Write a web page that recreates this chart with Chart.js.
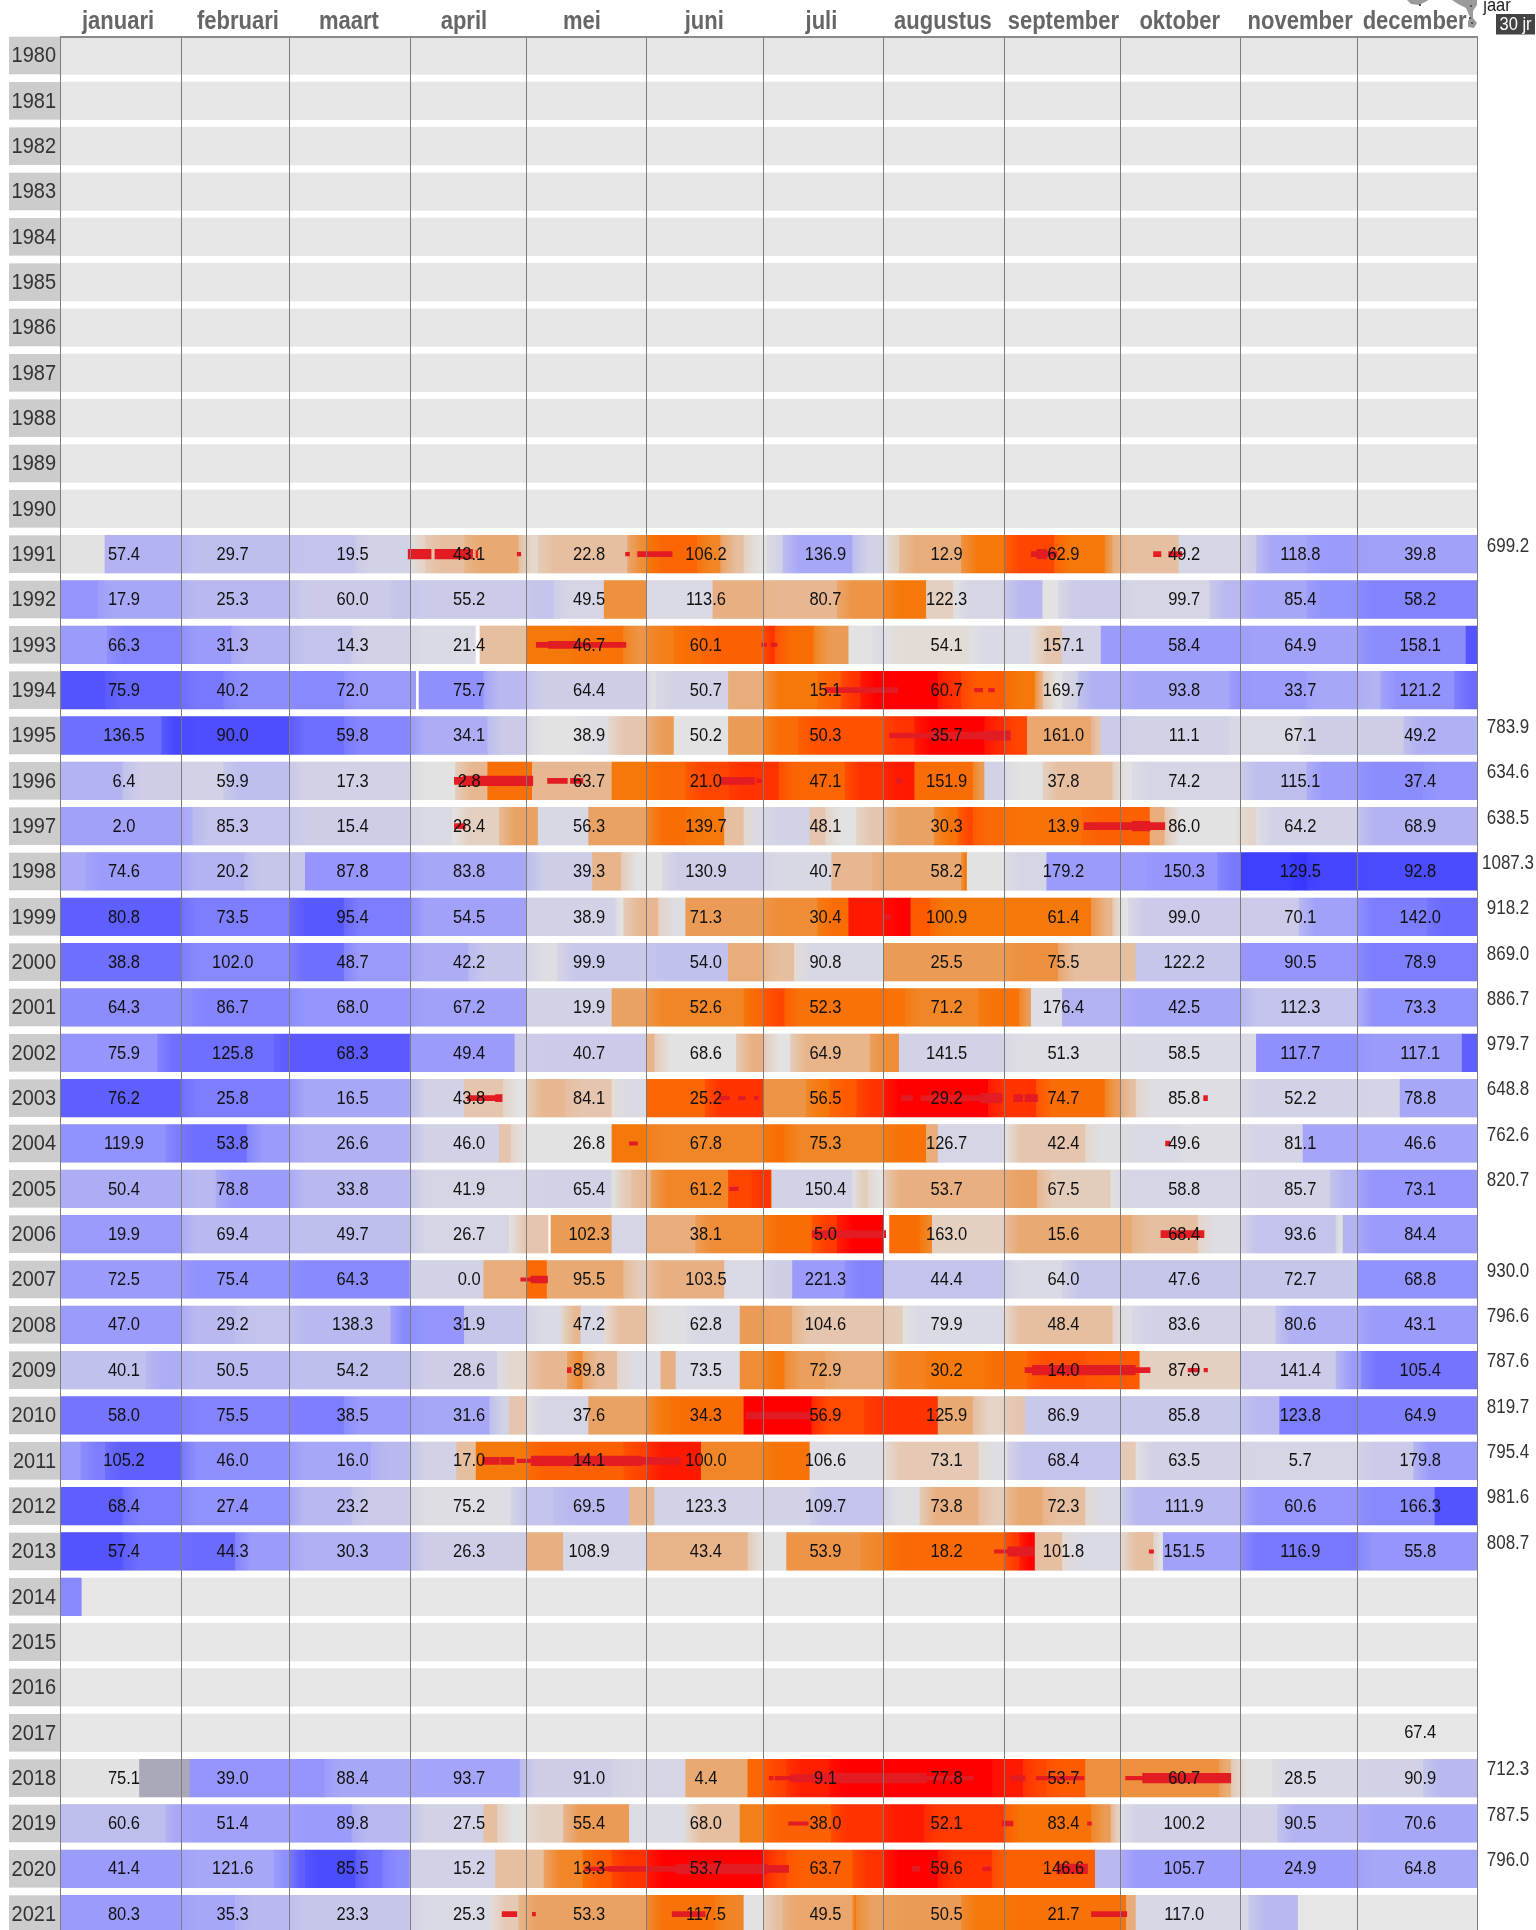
<!DOCTYPE html>
<html>
<head>
<meta charset="utf-8">
<title>neerslag per jaar</title>
<script src="https://cdn.jsdelivr.net/npm/chart.js@4/dist/chart.umd.min.js"></script>
<style>
html, body { margin: 0; padding: 0; background: #fff; overflow: hidden; }
canvas { display: block; }
</style>
</head>
<body>
<canvas id="rainChart" width="1536" height="1930"></canvas>
<script>
/* Monthly rain per year, with daily deficit colour bands and drought streaks */
const years = [];
for (let y = 1980; y <= 2021; y++) years.push(y);

const monthNames = ['januari','februari','maart','april','mei','juni','juli','augustus','september','oktober','november','december'];
const monthEdges = [0,31,59,90,120,151,181,212,243,273,304,334,365];
const monthNameDays = [14.5,45.4,74,103.6,134,165.5,195.7,227,258,288,319,348.5];
const valueDays = [16.3,44.3,75.2,105.2,136.1,166.2,197,228.2,258.3,289.4,319.3,350.2];

/* monthly totals, mm */
const r1991 = [57.4,29.7,19.5,43.1,22.8,106.2,136.9,12.9,62.9,49.2,118.8,39.8];
const r1992 = [17.9,25.3,60.0,55.2,49.5,113.6,80.7,122.3,null,99.7,85.4,58.2];
const r1993 = [66.3,31.3,14.3,21.4,46.7,60.1,null,54.1,157.1,58.4,64.9,158.1];
const r1994 = [75.9,40.2,72.0,75.7,64.4,50.7,15.1,60.7,169.7,93.8,33.7,121.2];
const r1995 = [136.5,90.0,59.8,34.1,38.9,50.2,50.3,35.7,161.0,11.1,67.1,49.2];
const r1996 = [6.4,59.9,17.3,2.8,63.7,21.0,47.1,151.9,37.8,74.2,115.1,37.4];
const r1997 = [2.0,85.3,15.4,28.4,56.3,139.7,48.1,30.3,13.9,86.0,64.2,68.9];
const r1998 = [74.6,20.2,87.8,83.8,39.3,130.9,40.7,58.2,179.2,150.3,129.5,92.8];
const r1999 = [80.8,73.5,95.4,54.5,38.9,71.3,30.4,100.9,61.4,99.0,70.1,142.0];
const r2000 = [38.8,102.0,48.7,42.2,99.9,54.0,90.8,25.5,75.5,122.2,90.5,78.9];
const r2001 = [64.3,86.7,68.0,67.2,19.9,52.6,52.3,71.2,176.4,42.5,112.3,73.3];
const r2002 = [75.9,125.8,68.3,49.4,40.7,68.6,64.9,141.5,51.3,58.5,117.7,117.1];
const r2003 = [76.2,25.8,16.5,43.8,84.1,25.2,56.5,29.2,74.7,85.8,52.2,78.8];
const r2004 = [119.9,53.8,26.6,46.0,26.8,67.8,75.3,126.7,42.4,49.6,81.1,46.6];
const r2005 = [50.4,78.8,33.8,41.9,65.4,61.2,150.4,53.7,67.5,58.8,85.7,73.1];
const r2006 = [19.9,69.4,49.7,26.7,102.3,38.1,5.0,163.0,15.6,68.4,93.6,84.4];
const r2007 = [72.5,75.4,64.3,0.0,95.5,103.5,221.3,44.4,64.0,47.6,72.7,68.8];
const r2008 = [47.0,29.2,138.3,31.9,47.2,62.8,104.6,79.9,48.4,83.6,80.6,43.1];
const r2009 = [40.1,50.5,54.2,28.6,89.8,73.5,72.9,30.2,14.0,87.0,141.4,105.4];
const r2010 = [58.0,75.5,38.5,31.6,37.6,34.3,56.9,125.9,86.9,85.8,123.8,64.9];
const r2011 = [105.2,46.0,16.0,17.0,14.1,100.0,106.6,73.1,68.4,63.5,5.7,179.8];
const r2012 = [68.4,27.4,23.2,75.2,69.5,123.3,109.7,73.8,72.3,111.9,60.6,166.3];
const r2013 = [57.4,44.3,30.3,26.3,108.9,43.4,53.9,18.2,101.8,151.5,116.9,55.8];
const r2017 = [null,null,null,null,null,null,null,null,null,null,null,67.4];
const r2018 = [75.1,39.0,88.4,93.7,91.0,4.4,9.1,77.8,53.7,60.7,28.5,90.9];
const r2019 = [60.6,51.4,89.8,27.5,55.4,68.0,38.0,52.1,83.4,100.2,90.5,70.6];
const r2020 = [41.4,121.6,85.5,15.2,13.3,53.7,63.7,59.6,146.6,105.7,24.9,64.8];
const r2021 = [80.3,35.3,23.3,25.3,53.3,117.5,49.5,50.5,21.7,117.0,null,null];
const rainRows = [[1991,r1991],[1992,r1992],[1993,r1993],[1994,r1994],[1995,r1995],[1996,r1996],[1997,r1997],[1998,r1998],[1999,r1999],[2000,r2000],[2001,r2001],[2002,r2002],[2003,r2003],[2004,r2004],[2005,r2005],[2006,r2006],[2007,r2007],[2008,r2008],[2009,r2009],[2010,r2010],[2011,r2011],[2012,r2012],[2013,r2013],[2017,r2017],[2018,r2018],[2019,r2019],[2020,r2020],[2021,r2021]];

const totalYears = [1991,1995,1996,1997,1998,1999,2000,2001,2002,2003,2004,2005,2007,2008,2009,2010,2011,2012,2013,2018,2019,2020];
const totalValues = ['699.2','783.9','634.6','638.5','1087.3','918.2','869.0','886.7','979.7','648.8','762.6','820.7','930.0','796.6','787.6','819.7','795.4','981.6','808.7','712.3','787.5','796.0'];

/* colour bands per year: [last day of band, level]; level > 0 wet/blue, < 0 dry/orange-red */
const b1991 = [[11.4,0],[31,2.2],[59,1.8],[76,1.6],[90,1],[94,-0.4],[104,-1],[118,-1.6],[123,-0.3],[146,-1],[151,-2.4],[164,-3.6],[170,-2.6],[176,-1],[182,0],[186,1],[204,2.6],[212,1],[216,-0.5],[232,-1.5],[243,-3],[256,-4.5],[269,-3],[271,-2],[288,-1],[304,0.8],[308,1.2],[321,2.6],[334,3],[365,2.8]];
const b1992 = [[9.6,3.2],[31,2.6],[59,2],[85,1.3],[90,1.6],[120,1.3],[127,1.6],[140,0.8],[151,-2.3],[168,0.5],[181,-1.4],[200,-1.2],[212,-2.2],[223,-3],[230,-0.5],[243,0.8],[253,2],[257,0],[273,1.3],[296,0.8],[304,2],[321,2.6],[334,3.3],[365,3.8]];
const b1993 = [[12,3],[31,3.8],[44,3],[59,2.2],[75,1.6],[90,1],[107,0.5],[108,99],[120,-1],[132,-3],[145,-3.2],[151,-2.2],[158,-2.8],[165,-3.4],[181,-3.8],[184,-5],[194,-3.4],[203,-2],[209,0],[212,0.5],[234,-0.2],[250,0.5],[258,-0.8],[268,1],[304,3],[334,2.8],[362,3.5],[365,5.5]];
const b1994 = [[11.5,5.5],[31,4.8],[42,4.2],[59,3.5],[73,3.6],[91.6,3],[92.3,99],[109,3.4],[120,2],[151,1.2],[153.4,0.2],[172,1],[181,-1.5],[195,-3],[201,-3.8],[206,-5],[226,-6],[232,-5],[243,-4],[251,-3],[253,-1.5],[258,0],[262,1],[273,2.3],[301,2.6],[304,3.2],[321,3],[334,2.6],[340,2.2],[359,3.3],[365,4.6]];
const b1995 = [[26,4.5],[31,6],[59,5.7],[73,4.5],[90,3.7],[110,2.4],[120,1.3],[133,0],[141,0.3],[151,-0.8],[158,-2],[172,0],[181,-2],[190,-3.4],[212,-4.2],[220,-5],[238,-6],[243,-5.2],[249,-4.5],[265.5,-1.7],[268,-0.8],[273,1.3],[301,1],[319,0.5],[346,1.2],[365,2.3]];
const b1996 = [[16,2.2],[31,1.2],[42,1],[59,1.8],[90,1],[101.7,0],[110,-1.2],[121.5,-3.3],[142,-1.2],[151,-3],[161,-3.5],[172,-4.5],[185,-5],[202,-3.6],[212,-5],[220,-5.5],[235,-3.4],[238,-2],[243,1],[253,0],[271,-1],[276,0],[304,0.8],[321,1.8],[334,3],[351,3.5],[365,3.2]];
const b1997 = [[31,2.8],[34,2.4],[59,1.6],[90,1.2],[101,0.5],[113,-0.5],[123,-1.8],[136,0.6],[151,-1.8],[161,-3.4],[171,-3],[176,-1],[181,0.5],[193,1],[197,-0.8],[205,0],[212,-0.8],[225,-1.8],[231,-3.2],[235,-4.5],[243,-3.5],[263,-3.2],[280.6,-3.8],[284.4,-1.5],[303,0],[308,-0.4],[334,1],[365,2.2]];
const b1998 = [[6.5,2.5],[31,3],[47.4,2.2],[63,1.5],[90,3.2],[120,2.6],[137,1.2],[144.4,-1.3],[155,0],[181,1.2],[198.6,0.6],[209,-1.2],[232,-1.6],[233.5,-3],[243,0],[254,0.8],[279.5,3],[298,3.2],[304,4.2],[317,6.5],[321,7],[334,6],[365,5.8]];
const b1999 = [[31,5],[59,4],[73,5.3],[90,4],[120,2.8],[143,1],[145,0],[154,-1.2],[161,0.3],[181,-2],[195,-2.4],[203,-3.4],[212,-5.5],[219,-6],[224,-4],[243,-3],[265.5,-3],[271,-1.3],[275,0],[319,1.3],[334,2.8],[352,4],[365,4.6]];
const b2000 = [[31,4.5],[59,3.6],[73,4.5],[90,3],[105,2.4],[120,1.5],[128,0.3],[151,1.4],[172,1.7],[181,-1.5],[189,-1],[212,0.6],[243,-2],[257,-2.3],[277,-1],[304,1.5],[334,3.2],[365,4]];
const b2001 = [[34,3.5],[59,3.8],[90,3.2],[120,2.8],[142,1],[151,-1.8],[176,-2.6],[181,-3.6],[186.5,-4.5],[217.5,-3.2],[236.5,-2.6],[247,-3.2],[250,-2],[258,0.3],[273,2.2],[304,2.6],[334,1.6],[365,3.3]];
const b2002 = [[25,3.2],[55,4.5],[90,5.2],[117,3],[120,1.2],[151,1.3],[153,-1.3],[174,0],[181,-1.4],[188,0],[208.5,-1.3],[216,-2.4],[243,1],[273,0.3],[308,0.5],[334,3.4],[361,3],[365,5]];
const b2003 = [[31,5],[59,4],[90,2.6],[104,1],[114,-0.8],[120,0],[130,-1.2],[142,-0.8],[151,0.5],[166,-3.6],[181,-5],[192,-2.2],[198,-3],[205,-4],[212,-5],[239,-6],[251.3,-5],[269,-3.4],[273,-2],[277,-1],[304,0.3],[334,1],[345,0.9],[365,2.6]];
const b2004 = [[27,3.3],[31,4],[48,4.5],[59,3],[90,2.3],[113,1],[116,-0.8],[142,0],[151,-3],[181,-2.6],[186.5,-3.4],[212,-2.6],[223,-3.2],[226,-1.5],[243,0.8],[264,-0.8],[273,0.2],[288,0.5],[304,0.3],[320,0.9],[365,2.7]];
const b2005 = [[31,2.4],[40,2],[59,3],[90,2],[120,0.8],[142,1],[147,-0.7],[152,-1.2],[172,-2.6],[178,-4.5],[183,-5],[183.2,-3],[204,1],[208,-0.6],[212,0],[243,-1.4],[251.6,-1.8],[270.5,-0.6],[304,0.8],[327,1],[334,2.2],[365,3.2]];
const b2006 = [[31,3],[59,2],[90,1.8],[115.6,0.8],[125.7,-0.8],[126.3,99],[142,-2],[151,0.8],[163.5,-1.5],[181,-2.4],[193.5,-3.4],[200,-4.8],[212,-6],[213.5,99],[221.3,-3.4],[224.5,-2.6],[243,-0.5],[276,-1.6],[293,-1],[304,0.3],[328.5,1.6],[330.3,0],[334,2.2],[365,3]];
const b2007 = [[31,3],[59,3.3],[90,3.6],[109,1],[120,-1.5],[125.3,-3.5],[145,-1.6],[151,-0.6],[171,-1.4],[181,0.5],[188.5,1.2],[202,3],[212,3.8],[243,1.6],[258,0.5],[334,1.5],[365,3.3]];
const b2008 = [[31,3],[45,2],[59,1.6],[85,2],[90,3.6],[104,3.2],[120,1.5],[129,0.5],[134,-1.2],[140,0.6],[151,-1],[161,0.2],[175,0.6],[181,-2],[188.5,-1.8],[212,-0.8],[217,-0.6],[243,0.5],[271,-1],[276,0.3],[313,1],[334,2.3],[365,3]];
const b2009 = [[22,1.7],[31,2.4],[59,2],[90,1.8],[112.5,1.2],[120,-0.3],[130.5,-1.2],[134.5,-2.4],[143.4,-1.1],[154.6,0.4],[158.5,-1.4],[175,0.5],[181,-2.4],[186.5,-3],[197,-1.9],[212,-1.5],[222.5,-2.7],[238,-3],[249,-3.4],[264,-4.2],[278,-4],[304,-0.5],[328.5,1.3],[335,3],[365,4.3]];
const b2010 = [[31,4.3],[59,3.8],[73,4],[90,3],[110.5,2.6],[115.6,1],[120,-0.8],[136,0.8],[151,-1.8],[157,-3],[176,-3.4],[193.5,-6],[207,-4.4],[226,-5],[235,-1.6],[243,-0.4],[248.5,-0.8],[304,1.4],[314,2],[334,4],[365,3.9]];
const b2011 = [[5.2,3],[11.5,4],[31,5],[59,3.4],[80,2.6],[90,2],[102,1],[107,-1],[120,-3],[145,-3.8],[151,-4.6],[165,-5.5],[181,-2.6],[193,-3.2],[212,0.3],[236.5,-0.7],[244,0.3],[273,1.6],[277,-0.7],[304,1],[334,0.8],[348.5,1.3],[365,3]];
const b2012 = [[16,5],[31,4],[59,3.3],[75,2],[90,1.3],[116,0.3],[127,1.6],[146.5,2],[153,-1.2],[193,1],[212,1.6],[221.3,0.2],[236.5,-1.4],[243,-0.6],[253,-1.6],[264,-1],[273,0.5],[304,2],[334,3.2],[354,3.6],[365,5.5]];
const b2013 = [[16,5.5],[31,4.5],[45,4.6],[59,3],[90,2.3],[120,1.2],[129.5,-1.4],[151,0.7],[177,-1.3],[187,0],[206,-2.2],[212,-2.6],[243,-3.5],[247,-4.8],[251,-6],[258,-1],[273,0.5],[281.5,-1],[284,0],[304,2.8],[334,4.2],[365,3.2]];
const b2014 = [[5.3,3.6]];
const b2018 = [[20.3,0],[33.3,90],[68,3.2],[90,2.6],[118.3,2.7],[142,1.2],[161,0.8],[177,-1.6],[181,-3.6],[187,-4.6],[198,-5.4],[240,-6],[248,-5.5],[254,-4.5],[264,-4],[298.5,-2.3],[301.5,-1.5],[312,0],[334,0.7],[351,1],[365,2]];
const b2019 = [[27,1.8],[31,2.6],[59,2.8],[75,3],[90,2],[109,1],[112.5,-1],[120,0],[129.5,-0.5],[146.5,-2],[161,0.4],[175,-1],[181,-2.8],[198.5,-3.8],[212,-5],[222.5,-5.5],[243,-4.8],[265.5,-3.2],[270.5,-2],[273,-0.5],[313.4,1],[334,2.2],[365,2.6]];
const b2020 = [[31,3],[55,2.6],[59,3.4],[63,5],[76,5.8],[83,4.4],[90,3.5],[112,1],[120,-1],[124.5,-1],[134.5,-2.6],[142,-4],[151,-5],[181,-6],[187,-4.5],[204,-3.8],[212,-5],[226,-6],[240,-5],[266.5,-3.8],[273,2],[334,3],[365,2.6]];
const b2021 = [[31,3],[45,2.6],[59,2],[90,1.5],[110.5,0.5],[118,-0.7],[151,-1.8],[168.5,-3.2],[176,-2.6],[181,0],[186,-1],[204,-1.7],[205,-3],[212,-1.8],[232,-2],[243,-3],[274.5,-3.2],[277,-1.5],[306,0.7],[318.6,2]];
const bandRows = [[1991,b1991],[1992,b1992],[1993,b1993],[1994,b1994],[1995,b1995],[1996,b1996],[1997,b1997],[1998,b1998],[1999,b1999],[2000,b2000],[2001,b2001],[2002,b2002],[2003,b2003],[2004,b2004],[2005,b2005],[2006,b2006],[2007,b2007],[2008,b2008],[2009,b2009],[2010,b2010],[2011,b2011],[2012,b2012],[2013,b2013],[2014,b2014],[2018,b2018],[2019,b2019],[2020,b2020],[2021,b2021]];

/* drought streaks: [year, first day, last day], one list per line weight */
const streaksThin = [[1991,117.6,118.5],[1991,145.5,146.5],[1993,180.6,181.8],[1993,183,184.5],[1994,235.4,237.5],[1994,239,240.5],[1996,179.3,180.5],[2003,169.8,172.3],[2003,174.6,176.4],[2003,178.7,179.7],[2004,146.5,148.6],[2005,172.3,174.5],[2007,118.5,121.2],[2009,290.4,293.2],[2009,294.5,295.4],[2011,117.5,121.2],[2013,240.5,244],[2013,280.4,281.5],[2018,182.5,183.5],[2018,184,188],[2018,223,235],[2018,251.3,253.5],[2018,253.5,263.6],[2018,274.3,278.7],[2019,187.5,192.5],[2019,264.5,265.5],[2020,135,141],[2020,237.5,239.6],[2021,121.5,122.3]];
const streaksMed = [[1991,148.6,157.5],[1991,281.5,283.4],[1991,285.4,288.8],[1991,250,256.6],[1993,122.5,125.7],[1993,133,145.6],[1994,197,215.6],[1995,213.5,223.8],[1996,125.4,130.5],[1996,131.3,134.5],[1996,215.3,216.5],[1997,101.4,104.2],[1999,212,213.7],[2003,104.8,113],[2003,216.5,219.4],[2003,221.6,237],[2003,294.4,295.4],[2004,284.6,285.7],[2009,130.5,131.5],[2009,248.4,250.3],[2009,276.8,280.6],[2018,244.6,248.4],[2019,242.5,245.3],[2020,141,158.5],[2020,219.4,221.3],[2021,113.7,117.5],[2021,157.5,166],[2021,265.5,274.6]];
const streaksWide = [[1991,107,107.4],[1993,125.7,133],[1995,223.8,237.7],[1996,169.8,178.7],[1996,101.4,103.6],[1997,263.6,276],[1997,280.6,284.4],[2003,112,113.7],[2003,245.5,247.8],[2003,248.4,251.6],[2006,193.6,212.5],[2006,283.4,294.5],[2007,121.2,125.4],[2010,176.5,193],[2011,108.6,113],[2011,113.3,116.8],[2011,149.6,159.7],[2018,188,194],[2020,182,187.5]];
const streaksHeavy = [[1991,89.5,95.4],[1991,96.4,106.1],[1991,251.5,254],[1995,237.7,244.6],[1996,103.6,121.6],[1997,276,280.6],[2003,237,242.5],[2009,250.3,264.2],[2009,264.2,276.8],[2011,121.2,149.6],[2013,244,250.6],[2018,194,223],[2018,278.7,301.4],[2020,158.5,182],[2020,256.6,264.5]];

/* ── colour ramp for the band levels ───────────────────────────────── */
const rampLevels = [-6,-5,-4,-3,-2,-1,0,1,2,3,4,5,6,7];
const rampColors = [[255,0,0],[255,50,0],[255,90,0],[245,120,10],[235,155,85],[230,190,160],[226,226,226],[210,210,230],[185,185,240],[155,155,252],[125,125,255],[95,95,255],[70,70,255],[55,55,255]];
function levelColor(l) {
    if (l === 99) return '#ffffff';
    if (l === 90) return '#a9a9ba';
    for (let i = 1; i < rampLevels.length; i++) {
        if (l <= rampLevels[i]) {
            const t = (l - rampLevels[i - 1]) / (rampLevels[i] - rampLevels[i - 1]);
            const a = rampColors[i - 1], b = rampColors[i];
            return 'rgb(' + a.map((c, k) => Math.round(c + (b[k] - c) * t)).join(',') + ')';
        }
    }
    return 'rgb(55,55,255)';
}

const bandData = [];
bandRows.forEach(([year, bands]) => {
    let start = 0, prev = null;
    bands.forEach(([end, level]) => {
        bandData.push({ x: [start, end], y: year, level: level, prev: prev });
        start = end;
        prev = level;
    });
});

/* small level steps fade in over a few pixels, big steps stay crisp */
function bandFill(ctx) {
    const p = ctx.raw;
    if (!p) return '#e6e6e6';
    const flat = levelColor(p.level);
    const chart = ctx.chart;
    if (!chart.chartArea || p.prev === null || p.prev > 50 || p.level > 50) return flat;
    if (Math.abs(p.prev - p.level) > 1.7) return flat;
    const x0 = chart.scales.x.getPixelForValue(p.x[0]);
    const x1 = chart.scales.x.getPixelForValue(p.x[1]);
    const grad = chart.ctx.createLinearGradient(x0, 0, x1, 0);
    grad.addColorStop(0, levelColor((p.prev + p.level) / 2));
    grad.addColorStop(Math.min(0.7, 16 / Math.max(x1 - x0, 1)), flat);
    grad.addColorStop(1, flat);
    return grad;
}

const streakSet = (rows, thick) => ({
    data: rows.map(r => ({ x: [r[1], r[2]], y: r[0] })),
    backgroundColor: '#e21c22',
    barThickness: thick,
    grouped: false,
});

const rowHeight = 37.6;
const textStretch = 1.14;   // the source picture has vertically stretched lettering

function tallText(ctx, text, x, y) {
    ctx.save();
    ctx.translate(x, y);
    ctx.scale(1, textStretch);
    ctx.fillText(text, 0, 0);
    ctx.restore();
}

/* year tabs, map shape, every text label */
const decorPlugin = {
    id: 'decor',
    beforeDraw(chart) {
        const ctx = chart.ctx, y = chart.scales.y;
        ctx.save();
        ctx.fillStyle = '#cccccc';
        years.forEach(v => ctx.fillRect(9, y.getPixelForValue(v) - rowHeight / 2, 51, rowHeight));
        /* Netherlands outline, cut off by the top of the page */
        ctx.fillStyle = '#9a9a9a';
        ctx.beginPath();
        ctx.moveTo(1407, 0); ctx.lineTo(1411, 4); ctx.lineTo(1419, 5); ctx.lineTo(1427, 1); ctx.lineTo(1428, 0);
        ctx.closePath();
        ctx.moveTo(1452, 0); ctx.lineTo(1458, 4); ctx.lineTo(1466, 8); ctx.lineTo(1470, 17); ctx.lineTo(1468, 21);
        ctx.lineTo(1468, 27); ctx.lineTo(1474, 28); ctx.lineTo(1477, 23); ctx.lineTo(1473, 18); ctx.lineTo(1473, 11);
        ctx.lineTo(1477, 5); ctx.lineTo(1477, 0);
        ctx.closePath();
        ctx.fill();
        ctx.fillStyle = '#555';
        [[1419,4],[1470,5],[1469,17],[1471,22]].forEach(p => ctx.fillRect(p[0], p[1], 2, 2));
        ctx.restore();
    },
    afterDraw(chart) {
        const ctx = chart.ctx, x = chart.scales.x, y = chart.scales.y;
        ctx.save();
        ctx.textBaseline = 'middle';
        ctx.textAlign = 'center';

        ctx.font = 'bold 22px "Liberation Sans"';
        ctx.fillStyle = '#666666';
        monthNames.forEach((name, i) => tallText(ctx, name, x.getPixelForValue(monthNameDays[i]) + 1, 22.5));

        ctx.textAlign = 'right';
        ctx.font = '20px "Liberation Sans"';
        ctx.fillStyle = '#333333';
        y.ticks.forEach(t => tallText(ctx, String(t.value), 56, y.getPixelForValue(t.value) + 0.5));

        ctx.textAlign = 'center';
        ctx.font = '16.5px "Liberation Sans"';
        ctx.fillStyle = '#111';
        rainRows.forEach(([year, vals]) => {
            vals.forEach((v, m) => {
                if (v === null) return;
                tallText(ctx, v.toFixed(1), x.getPixelForValue(valueDays[m]), y.getPixelForValue(year) + 0.5);
            });
        });
        ctx.font = '17px "Liberation Sans"';
        ctx.fillStyle = '#333';
        totalYears.forEach((yr, i) => tallText(ctx, totalValues[i], 1508, y.getPixelForValue(yr) - 8));
        ctx.font = '16.5px "Liberation Sans"';
        ctx.fillStyle = '#222';
        tallText(ctx, 'jaar', 1497, 6);
        ctx.fillStyle = '#444';
        ctx.fillRect(1496, 14, 39, 20.5);
        ctx.fillStyle = '#fff';
        tallText(ctx, '30 jr', 1515.5, 25);
        ctx.restore();
    }
};

new Chart(document.getElementById('rainChart').getContext('2d'), {
    type: 'bar',
    plugins: [decorPlugin],
    data: {
        datasets: [
            /* Chart.js paints the first dataset last, so the streaks go first */
            streakSet(streaksThin, 3.5),
            streakSet(streaksMed, 5),
            streakSet(streaksWide, 7),
            streakSet(streaksHeavy, 9.5),
            {
                data: bandData,
                backgroundColor: bandFill,
                barThickness: rowHeight,
                grouped: false,
            },
            {
                data: years.map(y => ({ x: [0, 365], y: y })),
                backgroundColor: '#e6e6e6',
                barThickness: rowHeight,
                grouped: false,
            },
        ]
    },
    options: {
        indexAxis: 'y',
        responsive: false,
        animation: false,
        devicePixelRatio: 1,
        layout: { padding: { left: 60.7, right: 58.3, top: 36.7, bottom: 0 } },
        plugins: { legend: { display: false }, tooltip: { enabled: false } },
        scales: {
            x: {
                type: 'linear',
                position: 'top',
                min: 0,
                max: 365,
                afterBuildTicks: s => { s.ticks = monthEdges.map(v => ({ value: v })); },
                afterFit: s => { s.height = 0; s.paddingLeft = 0; s.paddingRight = 0; },
                ticks: { display: false },
                grid: { color: '#7c7c7c', lineWidth: 1, z: 1, drawTicks: false },
                border: { display: true, color: '#8a8a8a', width: 2, z: 2 },
            },
            y: {
                type: 'linear',
                reverse: true,
                offset: false,
                min: 1979.585,
                max: 2021.35,
                afterBuildTicks: s => { s.ticks = years.map(v => ({ value: v })); },
                afterFit: s => { s.width = 0; s.paddingTop = 0; s.paddingBottom = 0; },
                ticks: { display: false },
                grid: { display: false, drawTicks: false, offset: false },
                border: { display: false },
            },
        },
    },
});
</script>
</body>
</html>
